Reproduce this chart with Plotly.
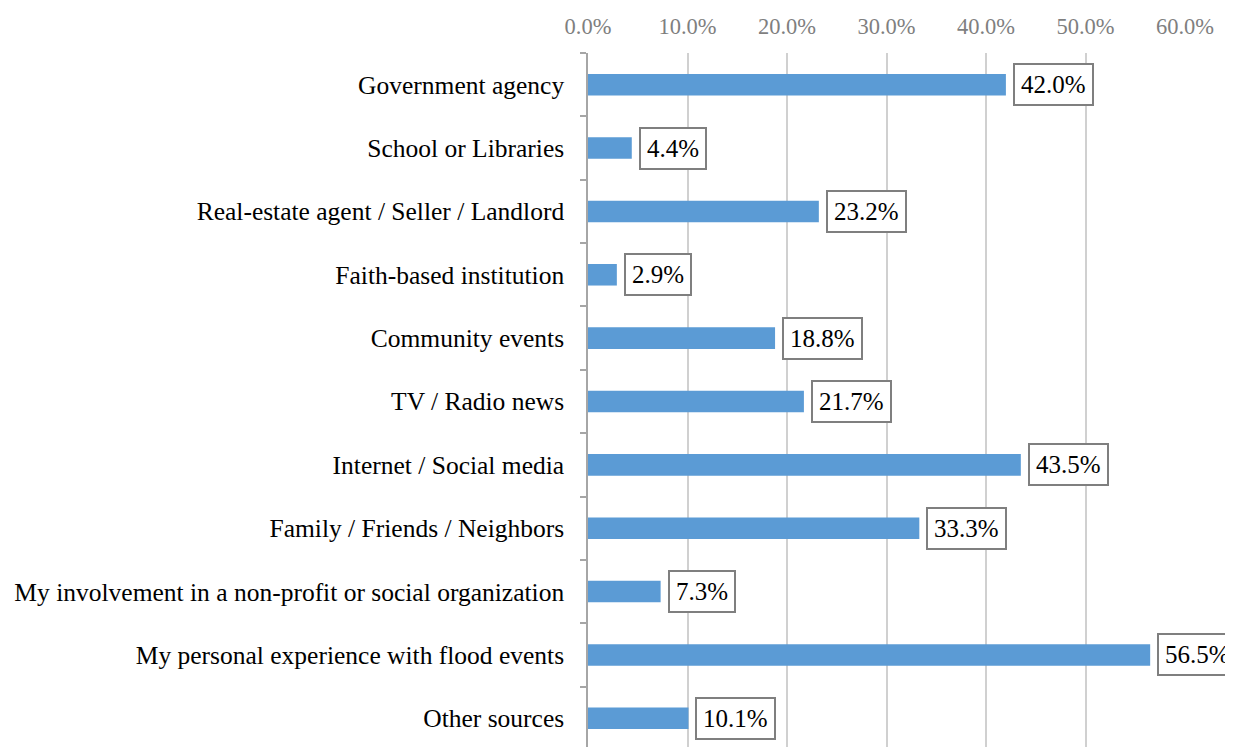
import plotly.graph_objects as go

categories = [
    "Government agency",
    "School or Libraries",
    "Real-estate agent / Seller / Landlord",
    "Faith-based institution",
    "Community events",
    "TV / Radio news",
    "Internet / Social media",
    "Family / Friends / Neighbors",
    "My involvement in a non-profit or social organization",
    "My personal experience with flood events",
    "Other sources",
]
values = [42.0, 4.4, 23.2, 2.9, 18.8, 21.7, 43.5, 33.3, 7.3, 56.5, 10.1]
tick_vals = [0, 10, 20, 30, 40, 50, 60]
tick_text = [f"{v:.1f}%" for v in tick_vals]

FONT = "Liberation Serif"

fig = go.Figure()
fig.add_trace(go.Bar(
    y=categories,
    x=values,
    orientation="h",
    width=0.34,
    marker=dict(color="#5B9BD5", line=dict(width=0)),
    hoverinfo="skip",
))

for c, v in zip(categories, values):
    fig.add_annotation(
        x=v, y=c, xref="x", yref="y",
        text=f"{v:.1f}%",
        showarrow=False,
        xanchor="left",
        xshift=7,
        font=dict(family=FONT, size=25, color="#000000"),
        bordercolor="#7F7F7F",
        borderwidth=2,
        borderpad=6,
        bgcolor="#FFFFFF",
    )

fig.update_layout(
    width=1233,
    height=747,
    margin=dict(l=580, r=56, t=41, b=5),
    paper_bgcolor="#FFFFFF",
    plot_bgcolor="#FFFFFF",
    showlegend=False,
    font=dict(family=FONT),
    xaxis=dict(
        side="top",
        range=[0, 60],
        tickvals=tick_vals,
        ticktext=tick_text,
        showgrid=True,
        gridcolor="#D0D0D0",
        gridwidth=1.5,
        zeroline=False,
        showline=False,
        ticks="",
        tickfont=dict(family=FONT, size=22.5, color="#7F7F7F"),
        ticklabelstandoff=14,
        fixedrange=True,
    ),
    yaxis=dict(
        categoryorder="array",
        categoryarray=categories,
        range=[10.5, -0.5],
        showline=True,
        linecolor="#A6A6A6",
        linewidth=1.5,
        ticks="outside",
        tickson="boundaries",
        ticklen=6,
        tickcolor="#A6A6A6",
        tickwidth=1.5,
        showgrid=False,
        zeroline=False,
        tickfont=dict(family=FONT, size=25.5, color="#000000"),
        ticklabelstandoff=17,
        fixedrange=True,
    ),
)

fig.write_html("out.html")
